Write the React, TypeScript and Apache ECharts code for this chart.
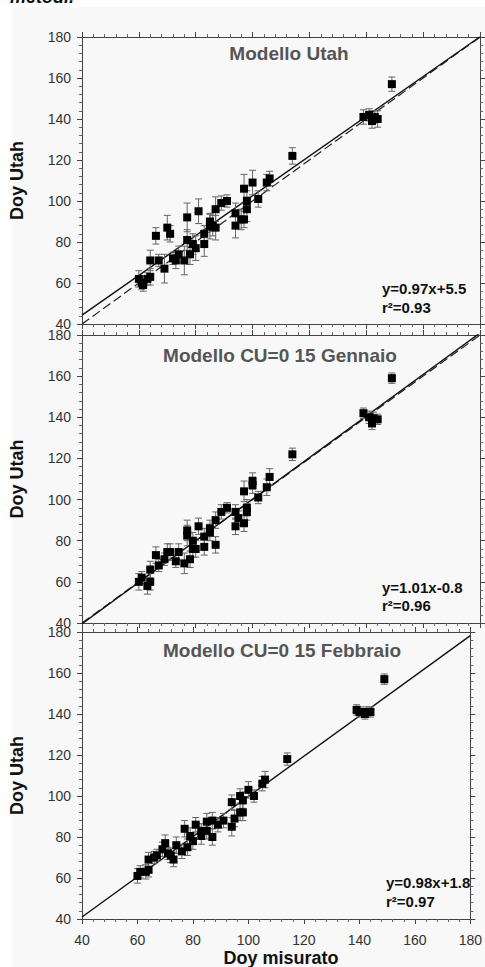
import React, { useEffect, useRef } from 'react';
import * as echarts from 'echarts';

// ---------- DATA ----------
const panelTitles = ['Modello Utah', 'Modello CU=0 15 Gennaio', 'Modello CU=0 15 Febbraio'];
const equations = ['y=0.97x+5.5', 'y=1.01x-0.8', 'y=0.98x+1.8'];
const r2Labels = ['r\u00b2=0.93', 'r\u00b2=0.96', 'r\u00b2=0.97'];
const slopes = [0.97, 1.01, 0.98];
const intercepts = [5.5, -0.8, 1.8];
const showOneToOne = [true, true, false];
const axisTicks = [40, 60, 80, 100, 120, 140, 160, 180];

// Panel 1: Modello Utah
const utahObs = [149, 114, 139, 141, 142, 143, 144, 142, 106, 105, 100, 97, 102, 98, 98, 94, 94, 96, 97, 91, 89, 87, 81, 77, 85, 85, 87, 86, 83, 83, 79, 80, 77, 78, 76, 74, 73, 72, 69, 67, 64, 66, 70, 71, 64, 63, 61, 60, 61.5];
const utahPred = [157, 122, 141, 142, 139, 141, 140, 141, 111, 109, 109, 106, 101, 100, 96, 94, 88, 91, 91, 100, 99, 96, 95, 92, 90, 87.5, 87, 88, 84, 79, 79, 77, 81, 74, 71, 74, 71, 72, 67, 71, 71, 83, 87, 84, 63, 62, 60, 62, 59];
const utahErr = [3.5, 4, 3.5, 3, 3.5, 3, 4, 3, 3.5, 4, 6, 7, 4, 5, 6, 5, 6, 5, 4, 3, 3.5, 6, 6, 7, 4, 6, 6, 5, 4, 6, 5, 6, 5, 5, 7, 4, 4, 3, 7, 3, 5, 4, 6, 4, 4, 3, 3, 4, 3];

// Panel 2: Modello CU=0 15 Gennaio
const gennaioObs = [149, 114, 139, 141, 142, 144, 142.5, 106, 105, 100, 100, 97, 102, 98, 98, 94, 95, 94, 97, 91, 89, 87, 85, 85, 83, 83, 87, 81, 77, 77, 79, 80, 79, 78, 76, 74, 73, 71, 70, 69, 67, 66, 64, 64, 63, 61, 60];
const gennaioPred = [159, 122, 142, 140, 137, 139, 139.5, 111, 106, 109, 107, 104, 101, 96, 94, 94, 91, 87, 88.5, 96, 94, 90, 86, 84, 82, 77, 78, 87, 85, 82.5, 80, 76, 76, 71, 69, 74.5, 70, 74.5, 74.5, 71, 68, 73, 66, 60, 58, 62, 60];
const gennaioErr = [2.5, 3, 2.5, 3, 3, 2.5, 3, 4, 4, 4, 4, 5, 3, 4, 4, 3.5, 3.5, 4, 4, 2.5, 3.5, 4, 4, 4, 4, 4, 4, 4, 5, 5, 4, 4, 4, 4, 5, 4, 3, 4, 4, 3, 3, 4, 4, 4, 4, 3, 4];

// Panel 3: Modello CU=0 15 Febbraio
const febbraioObs = [149, 114, 139, 140, 142, 144, 142.5, 106, 105, 100, 102, 97, 98, 94, 97, 98, 95, 94, 91, 89, 87, 85, 85, 87, 83, 83, 81, 77, 79, 80, 78, 76, 74, 73, 72, 71, 70, 69, 67, 66, 64, 64, 63, 61, 60];
const febbraioPred = [157, 118, 142, 141, 140, 141, 141, 108, 106, 103, 100, 100, 98, 97, 92, 92, 89, 85, 88, 86, 88, 87.5, 83, 80, 80.5, 83, 86, 84, 80.5, 78, 75, 73, 76, 69, 71, 72, 77, 74, 71, 70, 69, 64, 63, 63, 61];
const febbraioErr = [2.5, 3, 2.5, 2.5, 2.5, 2.5, 2.5, 4, 3.5, 4, 3, 3.5, 4, 3.5, 4, 4, 4, 4.5, 3.5, 3.5, 4, 4, 4, 4, 4, 3.5, 3.5, 4, 4, 4, 4, 3.5, 4, 3.5, 3.5, 3, 4, 3.5, 3, 3, 3.5, 3.5, 3.5, 3, 3.5];

const panelObs = [utahObs, gennaioObs, febbraioObs];
const panelPred = [utahPred, gennaioPred, febbraioPred];
const panelErr = [utahErr, gennaioErr, febbraioErr];

// ---------- LAYOUT ----------
const gridTops = [37, 335, 632];
const gridHeights = [287, 288, 287];
const gridLeft = 82;
const gridRight = 5;
const titleX = [289, 280, 282];
const titleY = [53, 355, 650];
const eqX = [382, 382, 386];
const eqY = [288, 587, 882];
const r2Y = [307, 605, 901];
const FONT = '"Liberation Sans", Arial, Helvetica, sans-serif';

const axisColor = '#444';

function makeXAxis(gridIndex: number, position: 'bottom' | 'top', showLabels: boolean) {
  return {
    type: 'value',
    gridIndex,
    position,
    min: 40,
    max: 180,
    interval: 20,
    axisLine: { show: true, onZero: false, lineStyle: { color: axisColor, width: 1 } },
    axisTick: { show: true, inside: false, length: 5, lineStyle: { color: axisColor } },
    minorTick: { show: true, splitNumber: 5, length: 3, lineStyle: { color: '#666' } },
    splitLine: { show: false },
    minorSplitLine: { show: false },
    axisLabel: {
      show: showLabels,
      margin: 14,
      fontSize: 14,
      color: '#333',
      fontFamily: FONT,
      formatter: (v: number) => (axisTicks.includes(v) ? String(v) : ''),
    },
  };
}

function makeYAxis(gridIndex: number, position: 'left' | 'right', showLabels: boolean) {
  return {
    type: 'value',
    gridIndex,
    position,
    min: 40,
    max: 180,
    interval: 20,
    axisLine: { show: true, onZero: false, lineStyle: { color: axisColor, width: 1 } },
    axisTick: { show: true, inside: false, length: 5, lineStyle: { color: axisColor } },
    minorTick: { show: true, splitNumber: 5, length: 3, lineStyle: { color: '#666' } },
    splitLine: { show: false },
    minorSplitLine: { show: false },
    axisLabel: {
      show: showLabels,
      margin: 11,
      fontSize: 14,
      color: '#333',
      fontFamily: FONT,
    },
  };
}

export default function App() {
  const ref = useRef<HTMLDivElement>(null);

  useEffect(() => {
    if (!ref.current) return;
    const chart = echarts.init(ref.current, undefined, { renderer: 'svg' });

    const grids = gridTops.map((top, i) => ({
      left: gridLeft,
      right: gridRight,
      top,
      height: gridHeights[i],
      show: false,
    }));

    const xAxes: any[] = [];
    const yAxes: any[] = [];
    for (let i = 0; i < 3; i++) {
      xAxes.push(makeXAxis(i, 'bottom', i === 2));
      xAxes.push(makeXAxis(i, 'top', false));
      yAxes.push(makeYAxis(i, 'left', true));
      yAxes.push(makeYAxis(i, 'right', false));
    }

    const series: any[] = [];
    for (let i = 0; i < 3; i++) {
      const obs = panelObs[i];
      const pred = panelPred[i];
      const err = panelErr[i];
      const a = slopes[i];
      const b = intercepts[i];

      if (showOneToOne[i]) {
        series.push({
          type: 'line',
          xAxisIndex: 2 * i,
          yAxisIndex: 2 * i,
          data: [[40, 40], [180, 180]],
          symbol: 'none',
          clip: true,
          lineStyle: { color: '#222', width: 1.2, type: [9, 4] },
          z: 3,
        });
      }
      series.push({
        type: 'line',
        xAxisIndex: 2 * i,
        yAxisIndex: 2 * i,
        data: [[40, a * 40 + b], [180, a * 180 + b]],
        symbol: 'none',
        clip: true,
        lineStyle: { color: '#111', width: 1.4 },
        z: 4,
      });
      series.push({
        type: 'custom',
        xAxisIndex: 2 * i,
        yAxisIndex: 2 * i,
        data: obs.map((x, k) => [x, pred[k] - err[k], pred[k] + err[k]]),
        encode: { x: 0, y: [1, 2] },
        clip: true,
        z: 5,
        renderItem: (params: any, api: any) => {
          const x = api.value(0);
          const lo = api.value(1);
          const hi = api.value(2);
          const p1 = api.coord([x, hi]);
          const p2 = api.coord([x, lo]);
          const w = 3.5;
          const st = { stroke: '#666', lineWidth: 1 };
          return {
            type: 'group',
            children: [
              { type: 'line', shape: { x1: p1[0], y1: p1[1], x2: p2[0], y2: p2[1] }, style: st },
              { type: 'line', shape: { x1: p1[0] - w, y1: p1[1], x2: p1[0] + w, y2: p1[1] }, style: st },
              { type: 'line', shape: { x1: p2[0] - w, y1: p2[1], x2: p2[0] + w, y2: p2[1] }, style: st },
            ],
          };
        },
      });
      series.push({
        type: 'scatter',
        xAxisIndex: 2 * i,
        yAxisIndex: 2 * i,
        data: obs.map((x, k) => [x, pred[k]]),
        symbol: 'rect',
        symbolSize: 8,
        itemStyle: { color: '#000', opacity: 1 },
        z: 6,
      });
    }

    const graphics: any[] = [
      {
        type: 'rect',
        shape: { x: 12, y: 7, width: 473, height: 960 },
        style: { fill: '#f8f8f8' },
        z: -10,
        silent: true,
      },
      {
        type: 'text',
        x: 10,
        y: 6,
        style: {
          text: 'metodi.',
          fontSize: 18,
          fontStyle: 'italic',
          fontWeight: 'bold',
          fontFamily: FONT,
          fill: '#111',
          verticalAlign: 'bottom',
          align: 'left',
        },
      },
      {
        type: 'text',
        x: 281,
        y: 958,
        style: {
          text: 'Doy misurato',
          fontSize: 18,
          fontWeight: 'bold',
          fontFamily: FONT,
          fill: '#111',
          align: 'center',
          verticalAlign: 'middle',
        },
      },
    ];
    for (let i = 0; i < 3; i++) {
      graphics.push({
        type: 'text',
        x: 17,
        y: gridTops[i] + gridHeights[i] / 2,
        rotation: Math.PI / 2,
        style: {
          text: 'Doy Utah',
          fontSize: 18,
          fontWeight: 'bold',
          fontFamily: FONT,
          fill: '#111',
          align: 'center',
          verticalAlign: 'middle',
        },
      });
      graphics.push({
        type: 'text',
        x: titleX[i],
        y: titleY[i],
        style: {
          text: panelTitles[i],
          fontSize: 19,
          fontWeight: 'bold',
          fontFamily: FONT,
          fill: '#555',
          align: 'center',
          verticalAlign: 'middle',
        },
      });
      graphics.push({
        type: 'text',
        x: eqX[i],
        y: eqY[i],
        style: {
          text: equations[i],
          fontSize: 15,
          fontWeight: 'bold',
          fontFamily: FONT,
          fill: '#111',
          align: 'left',
          verticalAlign: 'middle',
        },
      });
      graphics.push({
        type: 'text',
        x: eqX[i],
        y: r2Y[i],
        style: {
          text: r2Labels[i],
          fontSize: 15,
          fontWeight: 'bold',
          fontFamily: FONT,
          fill: '#111',
          align: 'left',
          verticalAlign: 'middle',
        },
      });
    }

    chart.setOption({
      animation: false,
      backgroundColor: '#ffffff',
      grid: grids,
      xAxis: xAxes,
      yAxis: yAxes,
      series,
      graphic: graphics,
    });

    return () => {
      chart.dispose();
    };
  }, []);

  return (
    <div
      ref={ref}
      style={{ position: 'absolute', left: 0, top: 0, width: 485, height: 967 }}
    />
  );
}
